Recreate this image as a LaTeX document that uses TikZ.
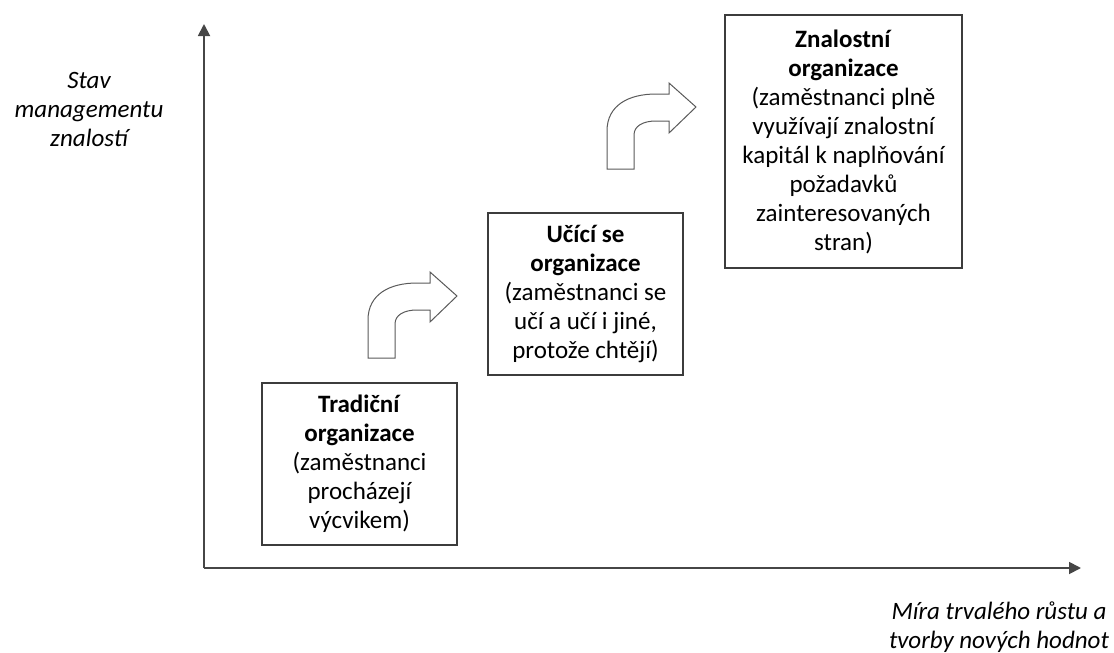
\documentclass[tikz,border=0pt]{standalone}
\usepackage{fontspec}
\setmainfont{Carlito}
\usepackage{tikz}
\usetikzlibrary{arrows.meta,positioning}
\usepackage{xcolor}
\definecolor{framegray}{RGB}{60,60,60}
\definecolor{axisgray}{RGB}{70,70,70}
\definecolor{arrowgray}{RGB}{90,90,90}
\tikzset{
  stagebox/.style={rectangle, draw=framegray, line width=0.8pt, fill=white,
                   minimum width=97.5pt, minimum height=81pt, align=center,
                   inner sep=0pt, font=\fontsize{12.5}{14.5}\selectfont},
  stageboxwide/.style={stagebox, minimum width=118.5pt, minimum height=126.5pt},
  axis/.style={-{Triangle[length=6pt,width=6pt]}, line width=0.9pt, axisgray},
  axislabel/.style={font=\fontsize{12.5}{14.5}\selectfont\itshape, align=center},
  bendline/.style={draw=arrowgray, line width=0.5pt, fill=white},
  pics/bentarrow/.style={code={
    \draw[bendline] (0,0) -- (0,-38) .. controls (0,-64) and (22,-75) .. (49,-75)
      -- (62,-75) -- (62,-86) -- (89,-62) -- (62,-36) -- (62,-48) -- (49,-48)
      .. controls (36,-48) and (27,-43) .. (27,-34) -- (27,0) -- cycle;
  }},
}

\begin{document}
\begin{tikzpicture}[x=0.5pt, y=-0.5pt]
\useasboundingbox (0,0) rectangle (1114,653);
\coordinate (origin) at (204,568);
\coordinate (ytip) at (204,24);
\coordinate (xtip) at (1081,568);
\draw[axis] (origin) -- (ytip);
\draw[axis] (origin) -- (xtip);
\node[axislabel] (ylab) at (89,109) {Stav\\managementu\\znalostí};
\node[axislabel] (xlab) at (999,627) {Míra trvalého růstu a\\tvorby nových hodnot};
\node[stagebox] (trad) at (359.5,464)
  {\textbf{Tradiční}\\\textbf{organizace}\\(zaměstnanci\\procházejí\\výcvikem)};
\node[stagebox] (learn) at (585.5,294)
  {\textbf{Učící se}\\\textbf{organizace}\\(zaměstnanci se\\učí a učí i jiné,\\protože chtějí)};
\node[stageboxwide] (know) at (843.5,141.5)
  {\textbf{Znalostní}\\\textbf{organizace}\\(zaměstnanci plně\\využívají znalostní\\kapitál k naplňování\\požadavků\\zainteresovaných\\stran)};
\pic at (368,358) {bentarrow};
\pic at (607,169) {bentarrow};
\end{tikzpicture}
\end{document}
